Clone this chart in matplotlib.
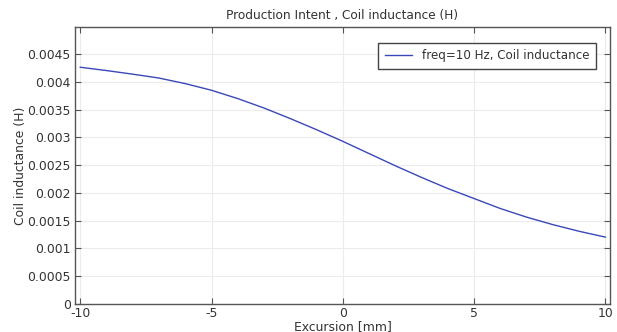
import numpy as np
import matplotlib
matplotlib.use('Agg')
import matplotlib.pyplot as plt
from matplotlib.ticker import FuncFormatter

plt.rcParams['font.family'] = 'DejaVu Sans'
plt.rcParams['axes.unicode_minus'] = False

# Excursion [mm] and inductance [H]
excursion = [-10, -9, -8, -7, -6, -5, -4, -3, -2, -1, 0,
             1, 2, 3, 4, 5, 6, 7, 8, 9, 10]
inductance = [0.004265, 0.004205, 0.004140, 0.004070, 0.003970, 0.003850,
              0.003700, 0.003530, 0.003340, 0.003140, 0.002930,
              0.002710, 0.002490, 0.002280, 0.002080, 0.001900,
              0.001720, 0.001565, 0.001430, 0.001310, 0.001205]
series_label = 'freq=10 Hz, Coil inductance'
x_ticks = [-10, -5, 0, 5, 10]
y_ticks = [0, 0.0005, 0.001, 0.0015, 0.002, 0.0025, 0.003, 0.0035, 0.004, 0.0045]

txt = '#333333'
fs = 8.9
fig = plt.figure(figsize=(6.17, 3.32), dpi=100)
ax = fig.add_axes([0.1216, 0.0843, 0.8672, 0.8344])

ax.plot(excursion, inductance, color='#3a48b8', lw=1.0, label=series_label)

ax.set_xlim(-10.2, 10.18)
ax.set_ylim(0, 0.00499)
ax.set_xticks(x_ticks)
ax.set_yticks(y_ticks)
ax.yaxis.set_major_formatter(FuncFormatter(lambda v, p: '%g' % v))
ax.xaxis.set_major_formatter(FuncFormatter(lambda v, p: '%g' % v))
ax.grid(True, color='#ececec', lw=0.8)
ax.tick_params(direction='in', length=4, width=0.8, color='#555555',
               labelsize=fs, labelcolor=txt, top=True, right=True,
               labeltop=False, labelright=False, pad=2)
ax.tick_params(axis='y', pad=3)
for s in ax.spines.values():
    s.set_color('#555555')
    s.set_linewidth(1.0)

ax.set_title('Production Intent , Coil inductance (H)', fontsize=8.7,
             color=txt, pad=6)
ax.set_xlabel('Excursion [mm]', fontsize=fs, color=txt, labelpad=0)
ax.set_ylabel('Coil inductance (H)', fontsize=fs, color=txt, labelpad=0)

leg = ax.legend(loc='upper right', fontsize=8.6, fancybox=False,
                framealpha=1, edgecolor='#444444', handlelength=2.3,
                borderpad=0.55, bbox_to_anchor=(0.985, 0.965))
leg.get_frame().set_linewidth(1.0)
for t in leg.get_texts():
    t.set_color(txt)

fig.savefig('out.png', dpi=100)
